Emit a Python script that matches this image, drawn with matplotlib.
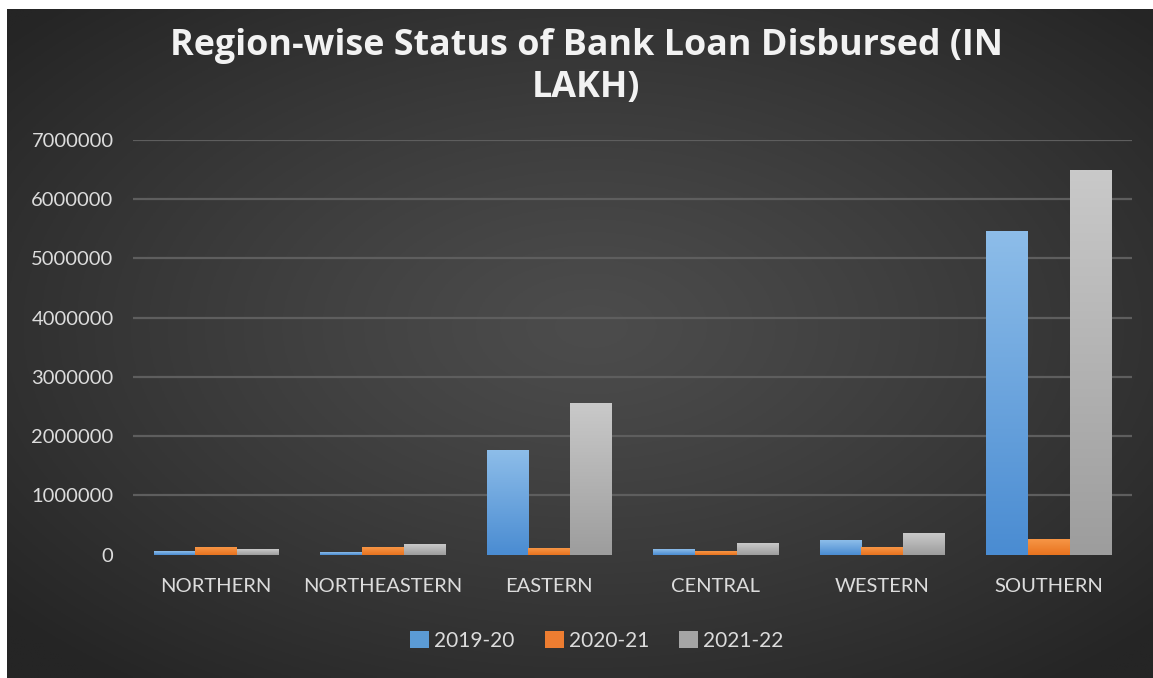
import numpy as np
import matplotlib
matplotlib.use("Agg")
import matplotlib.pyplot as plt
from matplotlib.patches import Patch

# ---- data ----
categories = ["NORTHERN", "NORTHEASTERN", "EASTERN", "CENTRAL", "WESTERN", "SOUTHERN"]
series_names = ["2019-20", "2020-21", "2021-22"]
v_2019_20 = [60000, 35000, 1760000, 90000, 240000, 5460000]
v_2020_21 = [120000, 135000, 110000, 60000, 130000, 260000]
v_2021_22 = [95000, 170000, 2560000, 200000, 360000, 6490000]
yticks = [0, 1000000, 2000000, 3000000, 4000000, 5000000, 6000000, 7000000]
title = "Region-wise Status of Bank Loan Disbursed (IN\nLAKH)"

W, H = 1153, 678
fig = plt.figure(figsize=(W / 100, H / 100), dpi=100, facecolor="white")
FONT = "Lato"
TFONT = "Open Sans"
TXT = "#dcdcdc"

# ---- radial gradient background ----
bg = fig.add_axes([7 / W, 0, 1 - 7 / W, (H - 9) / H], zorder=-5)
nx, ny = 400, 240
xx, yy = np.meshgrid(np.linspace(-1, 1, nx), np.linspace(-1, 1, ny))
r = np.sqrt(((xx - 0.02) / 1.0) ** 2 + ((yy + 0.05) / 1.0) ** 2)
r = np.clip(r / 1.35, 0, 1)
c_in, c_out = 0x4c / 255, 0x25 / 255
val = c_in + (c_out - c_in) * r ** 1.2
img = np.dstack([val, val, val])
bg.imshow(img, aspect="auto", extent=[0, 1, 0, 1], origin="upper")
bg.set_xlim(0, 1); bg.set_ylim(0, 1)
bg.axis("off")

# ---- main axes ----
ax = fig.add_axes([133 / W, (H - 554.5) / H, (1132 - 133) / W, (554.5 - 140) / H])
ax.set_facecolor("none")
x = np.arange(len(categories))
bw = 0.25
colors = ["#5b9bd5", "#ed7d31", "#a5a5a5"]
grads = [("#8dbde9", "#4a8cd2"), ("#f79646", "#e8731f"), ("#c9c9c9", "#9d9d9d")]
values = [v_2019_20, v_2020_21, v_2021_22]
for i, (vals, col, (ct, cb)) in enumerate(zip(values, colors, grads)):
    bars = ax.bar(x + (i - 1) * bw, vals, width=bw, color=col, zorder=3, linewidth=0)
    ctop = np.array(matplotlib.colors.to_rgb(ct))
    cbot = np.array(matplotlib.colors.to_rgb(cb))
    t = np.linspace(0, 1, 100)[:, None]
    g = (cbot[None, :] * (1 - t) + ctop[None, :] * t)[:, None, :]
    for b in bars:
        x0, y0, w, h = b.get_x(), b.get_y(), b.get_width(), b.get_height()
        im = ax.imshow(g, extent=[x0, x0 + w, y0, y0 + h], aspect="auto",
                       origin="lower", zorder=3.5, interpolation="bilinear")
        im.set_clip_path(b)

ax.set_xlim(-0.5, len(categories) - 0.5)
ax.set_ylim(0, 7000000)
ax.set_yticks(yticks)
ax.set_yticklabels([str(v) for v in yticks], fontsize=14.5, color=TXT, family=FONT)
ax.set_xticks(x)
ax.set_xticklabels(categories, fontsize=14.5, color=TXT, family=FONT)
ax.tick_params(axis="both", length=0)
ax.tick_params(axis="y", pad=14)
ax.tick_params(axis="x", pad=17)
for s in ax.spines.values():
    s.set_visible(False)
ax.yaxis.grid(True, color="#5e5e5e", linewidth=1.6, zorder=0)
ax.set_axisbelow(True)
for gl in ax.yaxis.get_gridlines()[:1]:
    gl.set_visible(False)

# ---- title ----
fig.text(586 / W, 1 - 67 / H, title, ha="center", va="center", fontsize=25.8,
         fontweight="bold", color="#f2f2f2", family=TFONT, linespacing=1.22)

# ---- legend ----
handles = [Patch(facecolor=c, edgecolor="none") for c in colors]
leg = fig.legend(handles, series_names, loc="center", bbox_to_anchor=(597 / W, 1 - 641 / H),
                 ncol=3, frameon=False, handlelength=0.9, handleheight=0.9,
                 handletextpad=0.25, columnspacing=1.45,
                 prop={"family": FONT, "size": 15})
for t in leg.get_texts():
    t.set_color(TXT)

fig.savefig("out.png", dpi=100, facecolor="white")
